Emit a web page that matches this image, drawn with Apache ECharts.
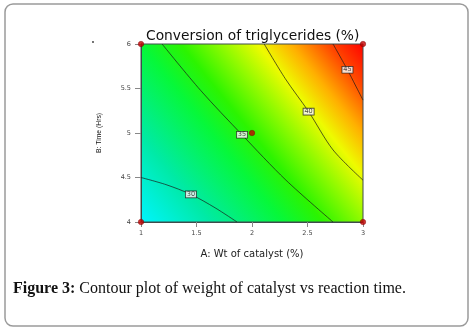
<!DOCTYPE html>
<html>
<head>
<meta charset="utf-8">
<script src="https://cdn.jsdelivr.net/npm/echarts@6/dist/echarts.min.js"></script>
<style>
  html, body { margin: 0; padding: 0; background: #fff; }
  #chart { width: 475px; height: 330px; }
</style>
</head>
<body>
<div id="chart"></div>
<script>
// contour levels and the lines, [A: catalyst %, B: time h]
const levels = [30, 35, 40, 45]
const contour30 = [[1, 4.5], [1.225, 4.42], [1.45, 4.31], [1.667, 4.16], [1.865, 4]]
const contour35 = [[1.19, 6], [1.536, 5.48], [1.91, 4.98], [2.306, 4.47], [2.73, 4]]
const contour40 = [[2.11, 6], [2.3, 5.61], [2.51, 5.24], [2.73, 4.81], [3, 4.47]]
const contour45 = [[2.73, 6], [2.86, 5.71], [2.93, 5.54], [3, 5.37]]
const labelPoints = [[1.45, 4.31], [1.91, 4.98], [2.51, 5.24], [2.86, 5.71]]
const designPoints = [[1, 4], [1, 6], [3, 4], [3, 6], [2, 5]]
const xTicks = [1, 1.5, 2, 2.5, 3]
const yTicks = [4, 4.5, 5, 5.5, 6]

const FONT = 'DejaVu Sans, Liberation Sans, sans-serif'
const contours = [contour30, contour35, contour40, contour45]

const chart = echarts.init(document.getElementById('chart'))

function buildOption() {
  let series = []
  contours.forEach((pts, i) => {
    series.push({
      name: 'c' + levels[i],
      type: 'line',
      data: pts,
      smooth: 0.3,
      showSymbol: false,
      silent: true,
      z: 2,
      lineStyle: { color: '#1a1a1a', width: 0.7 }
    })
  })
  // contour value boxes
  series.push({
    type: 'scatter',
    data: labelPoints.map((p, i) => [p[0], p[1], levels[i]]),
    symbolSize: 1,
    itemStyle: { color: 'rgba(0,0,0,0)' },
    z: 3,
    label: {
      show: true,
      position: 'inside',
      formatter: (p) => String(p.value[2]),
      fontFamily: FONT,
      fontSize: 6.5,
      lineHeight: 6,
      color: '#222',
      backgroundColor: '#fff',
      borderColor: '#222',
      borderWidth: 0.8,
      padding: [0, 1, 0, 1]
    }
  })
  series.push({
    type: 'scatter',
    data: designPoints,
    symbolSize: 5.5,
    clip: false,
    z: 4,
    itemStyle: { color: '#c40000', borderColor: '#700', borderWidth: 0.5 }
  })

  return {
    animation: false,
    title: {
      text: 'Conversion of triglycerides (%)',
      left: 146,
      top: 29,
      padding: 0,
      textStyle: { fontFamily: FONT, fontSize: 13.8, fontWeight: 'normal', color: '#111' }
    },
    grid: {
      left: 141,
      top: 44,
      width: 222,
      height: 178,
      show: true,
      borderColor: '#3e4c4c',
      borderWidth: 1,
      backgroundColor: {
        type: 'linear',
        x: 0, y: 1, x2: 1, y2: 0,
        colorStops: [
          { offset: 0, color: '#00f4ff' },
          { offset: 0.19, color: '#00eaa6' },
          { offset: 0.39, color: '#06f83a' },
          { offset: 0.5, color: '#2cf400' },
          { offset: 0.61, color: '#90fa00' },
          { offset: 0.71, color: '#eefb00' },
          { offset: 0.8, color: '#ffb000' },
          { offset: 0.9, color: '#ff4a00' },
          { offset: 1, color: '#ff0000' }
        ]
      }
    },
    xAxis: {
      type: 'value',
      min: xTicks[0],
      max: xTicks[xTicks.length - 1],
      interval: xTicks[1] - xTicks[0],
      name: 'A: Wt of catalyst (%)',
      nameLocation: 'middle',
      nameGap: 27,
      nameTextStyle: { fontFamily: FONT, fontSize: 10, color: '#222' },
      axisLine: { lineStyle: { color: '#3e4c4c', width: 1 } },
      axisTick: { length: 5, lineStyle: { color: '#888' } },
      axisLabel: { fontFamily: FONT, fontSize: 6.5, color: '#444', margin: 8 },
      splitLine: { show: false }
    },
    yAxis: {
      type: 'value',
      min: yTicks[0],
      max: yTicks[yTicks.length - 1],
      interval: yTicks[1] - yTicks[0],
      name: 'B: Time (Hrs)',
      nameLocation: 'middle',
      nameRotate: 90,
      nameGap: 38,
      nameTextStyle: { fontFamily: 'Liberation Sans, sans-serif', fontSize: 6.8, color: '#111' },
      axisLine: { lineStyle: { color: '#3e4c4c', width: 1 } },
      axisTick: { length: 6, lineStyle: { color: '#888' } },
      axisLabel: { fontFamily: FONT, fontSize: 6.5, color: '#444', margin: 10 },
      splitLine: { show: false }
    },
    graphic: [
      {
        type: 'rect',
        shape: { x: 5, y: 4, width: 463, height: 322, r: 8 },
        style: { fill: 'none', stroke: '#9a9a9a', lineWidth: 1.5 },
        silent: true
      },
      {
        type: 'circle',
        shape: { cx: 93, cy: 42, r: 0.9 },
        style: { fill: '#333' },
        silent: true
      },
      {
        type: 'text',
        x: 13,
        y: 281,
        style: {
          text: '{b|Figure 3:} Contour plot of weight of catalyst vs reaction time.',
          fontFamily: 'Liberation Serif, serif',
          fontSize: 16,
          fill: '#111',
          rich: {
            b: { fontFamily: 'Liberation Serif, serif', fontSize: 16, fontWeight: 'bold', fill: '#111' }
          }
        },
        silent: true
      }
    ],
    series: series
  }
}

chart.setOption(buildOption())
</script>
</body>
</html>
